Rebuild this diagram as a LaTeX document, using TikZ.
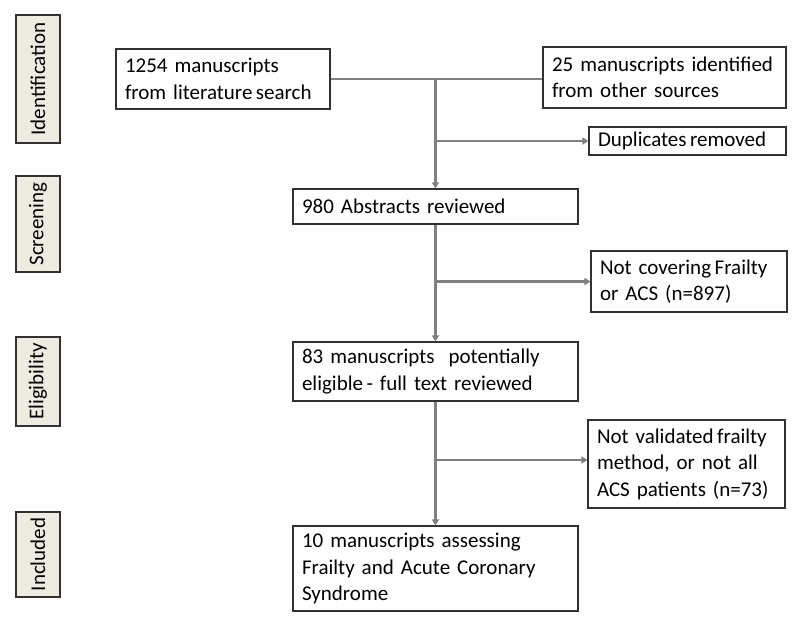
\documentclass[tikz,border=0pt]{standalone}
\usepackage{fontspec}
\setmainfont{Carlito}
\usetikzlibrary{arrows.meta}
\definecolor{linegray}{RGB}{128,128,128}
\definecolor{boxline}{RGB}{50,50,50}
\definecolor{tanfill}{RGB}{238,236,225}
\begin{document}
\begin{tikzpicture}[x=1pt,y=-1pt,
  every node/.style={font=\fontsize{21}{26.5}\selectfont},
  flowbox/.style={draw=boxline, line width=1.1pt, fill=white, rectangle, align=left,
    inner xsep=9pt, inner ysep=0pt, anchor=center},
  stage/.style={draw=boxline, line width=1.3pt, fill=tanfill, rectangle, rotate=90,
    inner sep=0pt, minimum height=44pt, anchor=center},
  conn/.style={draw=linegray, line width=2.6pt},
  arr/.style={conn, -{Triangle[length=6pt,width=7pt]}}
]
\useasboundingbox (0,0) rectangle (800,620);
\fill[white] (0,0) rectangle (800,620);

% stage labels
\node[stage, minimum width=128pt] (sid) at (38,79) {Identification};
\node[stage, minimum width=96pt] (ssc) at (38,224) {Screening};
\node[stage, minimum width=89pt] (sel) at (38,381.5) {Eligibility};
\node[stage, minimum width=85pt] (sin) at (38,554.5) {Included};

% flow boxes
\node[flowbox, text width=196pt, minimum height=60pt] (lit) at (223,79) {1254 manuscripts\\from literature\,search};
\node[flowbox, text width=225pt, minimum height=61pt] (oth) at (664.5,77.5) {25 manuscripts identified\\from other sources};
\node[flowbox, text width=179pt, minimum height=28pt] (dup) at (687.5,141) {Duplicates\,removed};
\node[flowbox, text width=267pt, minimum height=35pt] (abs) at (435.5,206.5) {980 Abstracts reviewed};
\node[flowbox, text width=178pt, minimum height=61pt] (ncov) at (689,281.5) {Not covering\,Frailty\\or ACS (n=897)};
\node[flowbox, text width=267pt, minimum height=59pt] (elig) at (435.5,371.5) {83 manuscripts\ \ potentially\\eligible\,- full text reviewed};
\node[flowbox, text width=179pt, minimum height=88pt] (nval) at (686.5,464) {Not validated\,frailty\\method, or not all\\ACS patients (n=73)};
\node[flowbox, text width=267pt, minimum height=85pt] (fin) at (435.5,568.5) {10 manuscripts assessing\\Frailty and Acute Coronary\\Syndrome};

% connectors
\coordinate (jtop) at (abs.north |- lit.east);
\draw[conn] (lit.east) -- (oth.west |- lit.east);
\draw[arr] (jtop) -- (abs.north);
\draw[arr] (abs.north |- dup.west) -- (dup.west);
\draw[arr] (abs.south) -- (elig.north);
\draw[arr] (abs.south |- ncov.west) -- (ncov.west);
\draw[arr] (elig.south) -- (fin.north);
\draw[arr] (elig.south |- 0,460) coordinate (jv) -- (nval.west |- jv);
\end{tikzpicture}
\end{document}
